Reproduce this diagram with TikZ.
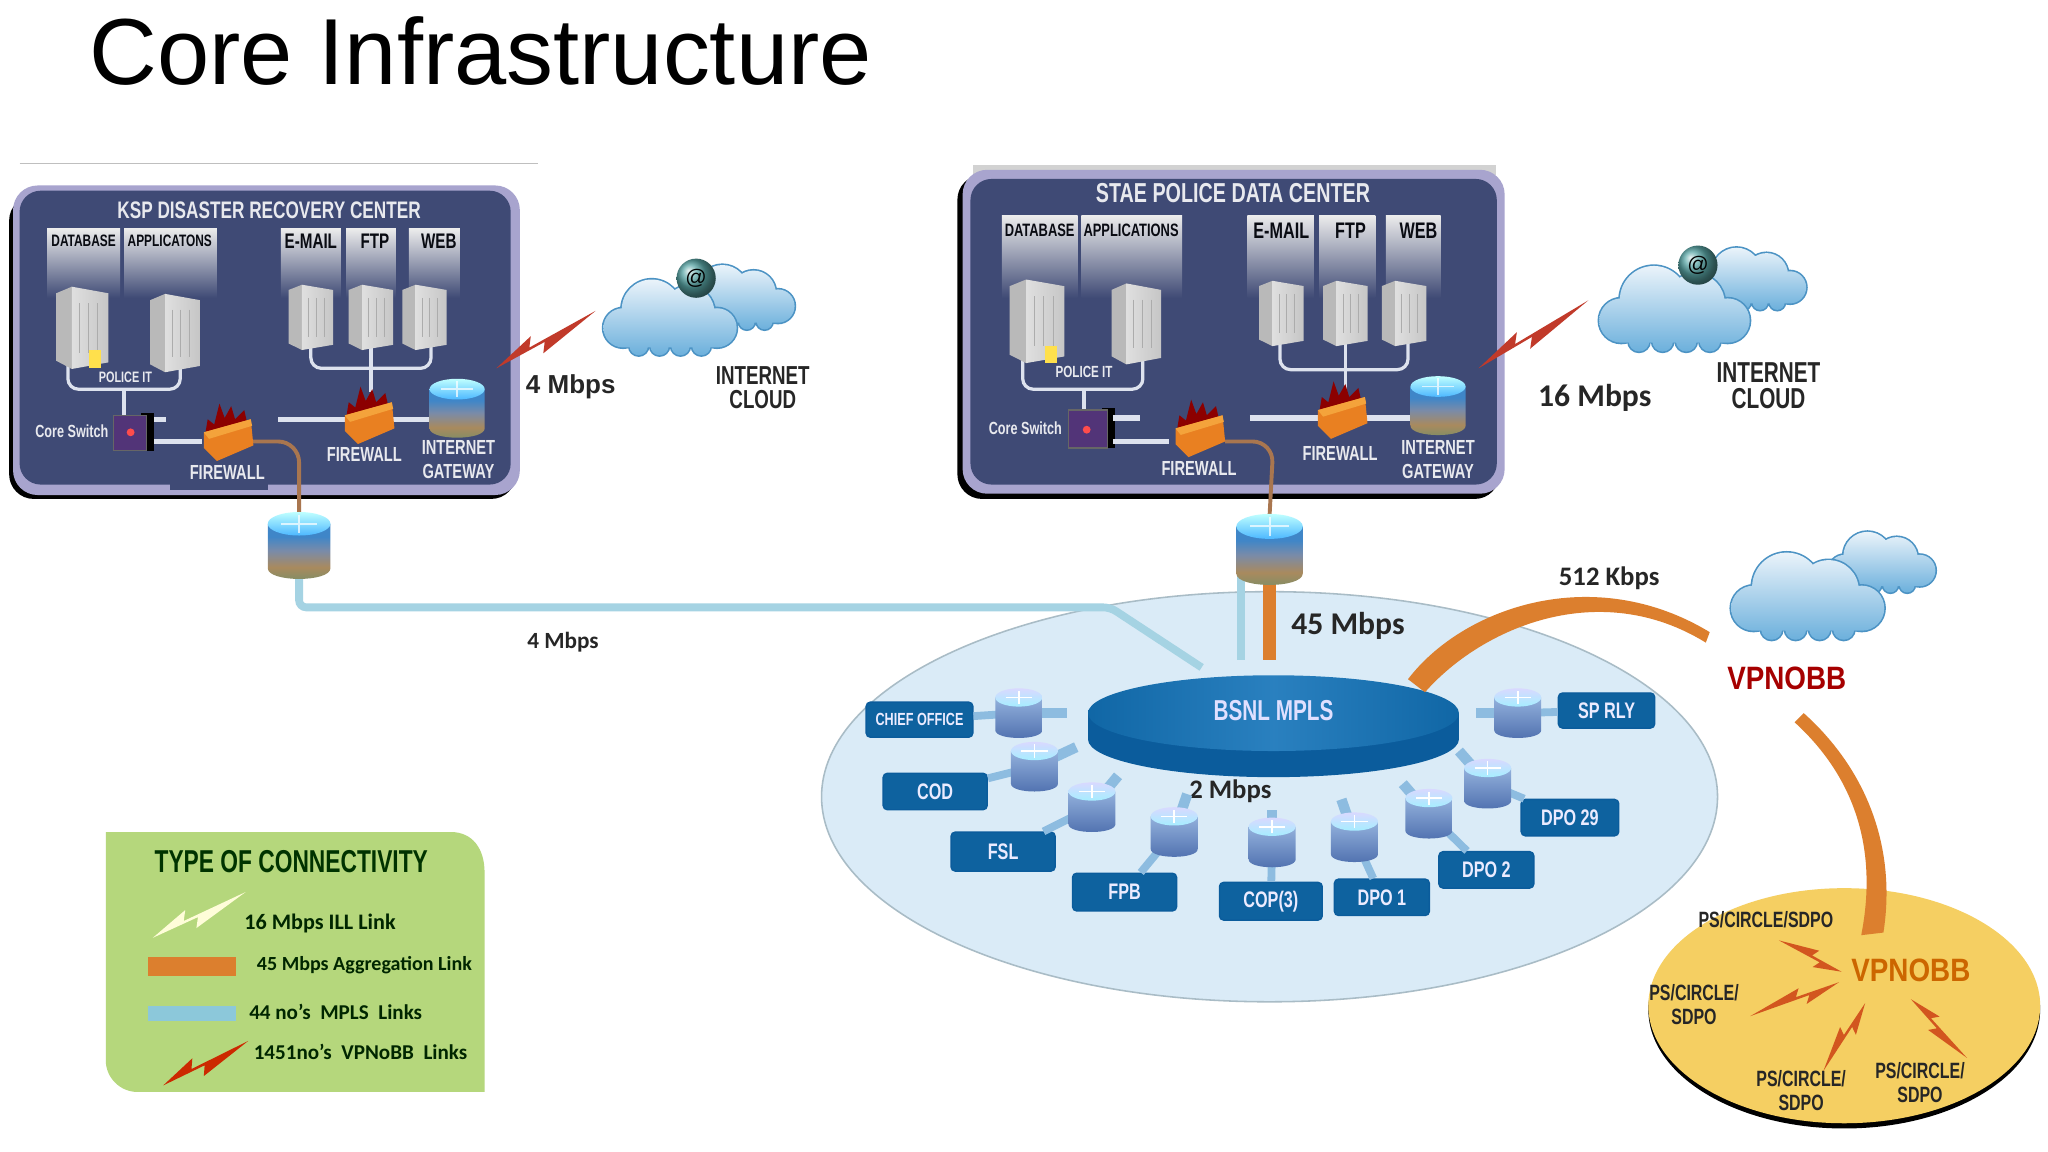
\documentclass[tikz,border=0pt]{standalone}
\usepackage{fontspec}
\setmainfont{Liberation Sans}
\newfontfamily\cond{Liberation Sans}[FakeStretch=0.72]
\newfontfamily\condw{Liberation Sans}[FakeStretch=0.86]
\newfontfamily\carl{Carlito}
\usetikzlibrary{calc}
\definecolor{navy}{HTML}{3F4A75}
\definecolor{lav}{HTML}{A8A4CE}
\definecolor{wire}{HTML}{DDE2EE}
\definecolor{mpls}{HTML}{A5D3E3}
\definecolor{legm}{HTML}{8CC8DA}
\definecolor{aggr}{HTML}{DC7F2E}
\definecolor{brownw}{HTML}{A9764F}
\definecolor{pale}{HTML}{DAEBF7}
\definecolor{edgeg}{HTML}{A9BCC6}
\definecolor{disc}{HTML}{1272B8}
\definecolor{discd}{HTML}{0B5C9C}
\definecolor{boxb}{HTML}{0E629F}
\definecolor{stub}{HTML}{8DBCE0}
\definecolor{yel}{HTML}{F5CF62}
\definecolor{leaf}{HTML}{B5D77C}
\definecolor{bred}{HTML}{C13A2A}
\definecolor{ybolt}{HTML}{D2561F}
\definecolor{rb1}{HTML}{7C8E66}
\definecolor{rb2}{HTML}{A98A5E}
\definecolor{rb3}{HTML}{7A8BA8}
\definecolor{rb4}{HTML}{3F86C8}
\definecolor{fwa}{HTML}{E98021}
\definecolor{fwb}{HTML}{F4A33B}
\definecolor{cla}{HTML}{EAF3FA}
\definecolor{clb}{HTML}{BCDDF0}
\definecolor{clc}{HTML}{6CB0DC}
\definecolor{cle}{HTML}{4C93C4}
\definecolor{sra}{HTML}{93B1DC}
\definecolor{srb}{HTML}{6A8CC4}
\definecolor{src}{HTML}{4E6FAE}
\pgfdeclareverticalshading{rtrbig}{100bp}{color(0bp)=(rb1); color(25bp)=(rb1); color(38bp)=(rb2);
  color(52bp)=(rb3); color(64bp)=(rb4); color(75bp)=(rb4); color(100bp)=(rb4)}
\newcommand\uu{0.3703pt}
\tikzset{
  lab/.style={font=\cond\fontsize{#1}{#1}\selectfont,inner sep=0pt,align=center},
  lab/.default=6,
  wt/.style={inner sep=0pt,align=center,font=\cond\bfseries\fontsize{#1}{#1}\selectfont,text=white!88!navy},
  wt/.default=5.8,
  col/.style={inner sep=0pt,align=center,font=\cond\bfseries\fontsize{#1}{#1}\selectfont,text=black!85!navy},
  blk/.style={inner sep=0pt,align=center,font=\cond\bfseries\fontsize{#1}{#1}\selectfont,text=black!85},
  blk/.default=7.4,
  big/.style={inner sep=0pt,font=\condw\bfseries\fontsize{9.2}{10}\selectfont},
  leg/.style={font=\carl\bfseries\fontsize{#1}{7}\selectfont,inner sep=0pt,text=black!85!green},
  cb/.style={font=\carl\bfseries\fontsize{#1}{#1}\selectfont,inner sep=0pt,text=black!85},
  box/.style={fill=boxb,draw=discd,rounded corners=1.2pt,inner sep=0pt,
    font=\cond\bfseries\fontsize{6.4}{7}\selectfont,text=blue!8!white},
  wr/.style={draw=wire,line width=2.5*\uu,rounded corners=3pt},
  wrt/.style={draw=wire,line width=4*\uu},
  lnk/.style={draw=stub,line width=6*\uu},
  mp/.style={draw=mpls,line width=6*\uu},
  og/.style={draw=aggr,line width=#1*\uu}
}
% big router with the brown foot
\newcommand\bigrtr[4]{\coordinate (#1) at (#2,#3);
  \begin{scope}[shift={(#2,#3)},scale=#4]
    \shade[shading=rtrbig]
      (-24,-16) -- (-24,18) .. controls (-24,29) and (24,29) .. (24,18) -- (24,-16) -- cycle;
    \shade[top color=cyan!25!white,bottom color=blue!40!cyan!70] (0,-16) ellipse (24 and 9);
    \draw[white,line width=1.5*\uu,opacity=.7] (0,-23) -- (0,-9) (-14,-16) -- (14,-16);
  \end{scope}}
% small router of the mpls cloud
\newcommand\smlrtr[3]{\coordinate (#1) at (#2,#3);
  \begin{scope}[shift={(#2,#3)}]
    \shade[top color=sra,middle color=srb,bottom color=src]
      (-18,-12) -- (-18,13) .. controls (-18,21) and (18,21) .. (18,13) -- (18,-12) -- cycle;
    \shade[top color=white!85!blue,bottom color=blue!20!cyan!35] (0,-12) ellipse (18 and 7);
    \draw[white,line width=1.2*\uu] (0,-17) -- (0,-7) (-10,-12) -- (10,-12);
  \end{scope}}
\newcommand\srv[4]{\begin{scope}[shift={(#1,#2)},xscale=#3,yscale=#4]
    \fill[gray!55] (-.5,-.42) -- (-.2,-.5) -- (-.2,.5) -- (-.5,.4) -- cycle;
    \shade[left color=gray!25,right color=gray!45] (-.2,-.5) -- (.5,-.42) -- (.5,.42) -- (-.2,.5) -- cycle;
    \draw[gray!65,line width=.8*\uu] (-.05,-.3) -- (-.05,.3) (.12,-.3) -- (.12,.3) (.3,-.3) -- (.3,.3);
  \end{scope}}
\newcommand\fw[2]{\begin{scope}[shift={(#1,#2)}]
    \fill[red!55!black] (-17,0) -- (-15,-12) -- (-10,-8) -- (-6,-24) -- (-2,-13) -- (3,-22) -- (6,-12) -- (13,-19) -- (16,-6) -- (16,2) -- cycle;
    \fill[fwa] (-18,-2) -- (18,-12) -- (20,8) -- (-8,20) -- (-18,10) -- cycle;
    \fill[fwb] (-18,-2) -- (18,-12) -- (19,-7) -- (-14,3) -- cycle;
  \end{scope}}
\newcommand\cld[3]{\begin{scope}[shift={(#1,#2)},scale=#3]
    \draw[cle,line width=2.5*\uu] (-36,11) circle (15) (-14,-3) circle (23) (14,-1) circle (20) (36,11) circle (15)
      (-24,25) circle (7) (-8,25) circle (7) (8,25) circle (7) (24,25) circle (7);
    \shade[top color=cla,middle color=clb,bottom color=clc]
      (-36,11) circle (15) (-14,-3) circle (23) (14,-1) circle (20) (36,11) circle (15)
      (-24,25) circle (7) (-8,25) circle (7) (8,25) circle (7) (24,25) circle (7)
      (-36,26) rectangle (36,8);
  \end{scope}}
\newcommand\bolt[4][3pt]{\coordinate (ba) at (#2); \coordinate (bb) at (#3);
  \fill[#4] (ba) -- ($(ba)!.40!(bb)!#1!90:(bb)$) -- ($(ba)!.34!(bb)!.4pt!90:(bb)$) -- (bb)
    -- ($(ba)!.42!(bb)!#1!-90:(bb)$) -- ($(ba)!.48!(bb)!.4pt!-90:(bb)$) -- cycle;}
\newcommand\atball[2]{\shade[ball color=gray!70!cyan] (#1,#2) circle (15);
  \node[font=\fontsize{6}{6}\selectfont,inner sep=0pt,text=black] at (#1,#2) {@};}
\begin{document}
\begin{tikzpicture}[x=0.0130612cm,y=-0.0130612cm]
\useasboundingbox (0,0) rectangle (1568,882);
\fill[white] (0,0) rectangle (1568,882);
\node[anchor=base west,font=\fontsize{26.7}{28}\selectfont,inner sep=0pt] (title) at (68,65) {Core Infrastructure};

% ---- left panel
\draw[gray!50,line width=1*\uu] (15,125) -- (412,125);
\fill[black,rounded corners=7pt] (7,150) rectangle (395,382);
\fill[lav,rounded corners=7pt] (10,142) rectangle (398,379);
\fill[navy,rounded corners=6pt] (15,146) rectangle (391,371);
\fill[navy] (130,366) rectangle (205,375);
\node[wt=6.8] (t1) at (206,161) {KSP DISASTER RECOVERY CENTER};
\foreach \a/\b in {36/92,95/166,215/261,265/303,313/352}
  \shade[top color=gray!15,bottom color=navy] (\a,175) rectangle (\b,228);
\node[col=4.7] (c1) at (64,184) {DATABASE};
\node[col=4.7] (c2) at (130,184) {APPLICATONS};
\node[col=6] (c3) at (238,185) {E-MAIL};
\node[col=6] (c4) at (287,185) {FTP};
\node[col=6] (c5) at (336,185) {WEB};
\coordinate (pl) at (52,262); \coordinate (pr) at (138,262);
\coordinate (pb) at (95,298); \coordinate (cs) at (100,330);
\draw[wr] (pl) -- (52,298) -- (138,298) -- (pr);
\draw[wr] (pb) -- (95,320);
\srv{63}{251}{40}{63} \srv{134}{255}{38}{60}
\fill[orange!35!yellow!70!white] (68,268) rectangle (77,282);
\node[wt=4.3] (pit1) at (96,289) {POLICE IT};
\coordinate (el) at (238,262); \coordinate (er) at (330,262); \coordinate (fw2t) at (284,300);
\draw[wr] (el) -- (238,282) -- (330,282) -- (er);
\draw[wr] (284,262) -- (fw2t);
\srv{238}{243}{34}{50} \srv{284}{243}{34}{50} \srv{325}{243}{34}{50}
\fill[black] (108,316) rectangle (118,345);
\fill[navy!70!violet,draw=black!60] (87,318) rectangle (112,345);
\fill[red!70!white] (100,331) circle (3);
\node[wt=5] (cs1) at (55,330) {Core Switch};
\coordinate (fw1i) at (155,338); \coordinate (fw2o) at (330,321); \coordinate (fw2i) at (213,321);
\draw[wrt] (118,321) -- (127,321);
\draw[wrt] (118,338) -- (fw1i);
\draw[wrt] (fw2i) -- (fw2o);
\coordinate (r1t) at (229,395);
\draw[draw=brownw,line width=3*\uu,rounded corners=6pt] (190,338) -- (229,338) -- (r1t);
\fw{174}{333} \fw{282}{320}
\bigrtr{gw1r}{350}{312}{.88}
\node[wt] (f1) at (174,362) {FIREWALL};
\node[wt] (f2) at (279,348) {FIREWALL};
\node[wt] (g1) at (351,352) {INTERNET\\[.9pt]GATEWAY};

\bolt{380,282}{456,238}{bred}
\node[font=\bfseries\fontsize{7.4}{8}\selectfont,inner sep=0pt,text=black!85] (m4) at (437,296) {4 Mbps};
\cld{565}{225}{.85} \cld{513}{240}{1} \atball{533}{213}
\node[blk] (ic1) at (584,297) {INTERNET\\[-.7pt]CLOUD};

% ---- right panel
\fill[gray!35] (745,126) rectangle (1145,134);
\fill[black,rounded corners=7pt] (733,134) rectangle (1148,382);
\fill[lav,rounded corners=7pt] (737,130) rectangle (1152,378);
\fill[navy,rounded corners=6pt] (743,137) rectangle (1146,371);
\node[wt=7.8] (t2) at (944,148) {STAE POLICE DATA CENTER};
\foreach \a/\b in {767/825,828/905,955/1006,1010/1053,1061/1103}
  \shade[top color=gray!15,bottom color=navy] (\a,165) rectangle (\b,228);
\node[col=5.1] (d1) at (796,176) {DATABASE};
\node[col=5.1] (d2) at (866,176) {APPLICATIONS};
\node[col=6.4] (d3) at (981,177) {E-MAIL};
\node[col=6.4] (d4) at (1034,177) {FTP};
\node[col=6.4] (d5) at (1086,177) {WEB};
\coordinate (ql) at (783,262); \coordinate (qr) at (875,262);
\coordinate (qb) at (830,298); \coordinate (qs) at (832,328);
\draw[wr] (ql) -- (783,298) -- (875,298) -- (qr);
\draw[wr] (qb) -- (830,320);
\srv{794}{246}{42}{64} \srv{870}{248}{38}{62}
\fill[orange!35!yellow!70!white] (800,265) rectangle (809,278);
\node[wt=4.6] (pit2) at (830,285) {POLICE IT};
\coordinate (fl) at (980,262); \coordinate (fr) at (1078,262); \coordinate (fw4t) at (1030,302);
\draw[wr] (fl) -- (980,283) -- (1078,283) -- (fr);
\draw[wr] (1030,262) -- (fw4t);
\srv{981}{240}{34}{50} \srv{1030}{240}{34}{50} \srv{1075}{240}{34}{50}
\fill[black] (844,312) rectangle (854,343);
\fill[navy!70!violet,draw=black!60] (818,314) rectangle (848,343);
\fill[red!70!white] (832,329) circle (3);
\node[wt=5] (cs2) at (785,328) {Core Switch};
\coordinate (fw3i) at (895,338); \coordinate (fw4i) at (957,320); \coordinate (fw4o) at (1085,320);
\draw[wrt] (852,320) -- (873,320);
\draw[wrt] (852,338) -- (fw3i);
\draw[wrt] (fw4i) -- (fw4o);
\coordinate (r2t) at (972,395);
\draw[draw=brownw,line width=3*\uu,rounded corners=6pt] (938,338) -- (975,338) -- (r2t);
\fw{918}{330} \fw{1027}{316}
\bigrtr{gw2r}{1101}{310}{.88}
\node[wt] (f3) at (918,359) {FIREWALL};
\node[wt] (f4) at (1026,347) {FIREWALL};
\node[wt] (g2) at (1101,352) {INTERNET\\[.9pt]GATEWAY};

\bolt{1132,282}{1216,230}{bred}
\node[cb=9] (m16) at (1221,305) {16 Mbps};
\cld{1341}{211}{.82} \cld{1282}{233}{1.13} \atball{1300}{203}
\node[blk=8.2] (ic2) at (1354,295) {INTERNET\\[-.8pt]CLOUD};

% ---- mpls cloud
\fill[pale,draw=edgeg,line width=1.2*\uu] (972,610) ellipse (343 and 157);
\coordinate (r1b) at (229,440); \coordinate (bend) at (850,465);
\coordinate (bs1) at (920,511); \coordinate (bs2) at (950,505); \coordinate (bs3) at (972,505);
\draw[mp,rounded corners=2pt] (r1b) -- (229,465) -- (bend) -- (bs1);
\draw[mp] (950,440) -- (bs2);
\draw[og=10] (972,440) -- (bs3);
\node[cb=6.6] (m4b) at (431,492) {4 Mbps};
\bigrtr{r1}{229}{417}{1}
\bigrtr{r2}{972}{420}{1.06}
\fill[discd] (833,546) rectangle (1117,566);
\fill[discd] (975,566) ellipse (142 and 29);
\shade[left color=disc!90!black,right color=disc!90!black,middle color=disc!90!white] (975,546) ellipse (142 and 29);
\node[font=\cond\bfseries\fontsize{8.2}{9}\selectfont,inner sep=0pt,text=blue!12!white] (bsnl) at (975,544) {BSNL MPLS};
\node[cb=9] (m45) at (1032,479) {45 Mbps};
\node[cb=7.6] (m2) at (942,606) {2 Mbps};

% boxes and their routers
\foreach \n/\x/\y/\w/\h/\t in {
  chief/704/551/82/27/{\fontsize{5}{5}\selectfont CHIEF OFFICE},cod/716/606/80/28/COD,fsl/768/652/80/30/FSL,
  fpb/861/683/80/29/FPB,cop/973/690/79/29/COP(3),dpo1/1058/687/73/28/DPO 1,
  dpo2/1138/666/73/28/DPO 2,dpo29/1202/626/75/28/DPO 29,sprly/1230/544/74/27/SP RLY}
  \node[box,minimum width=\w*\uu,minimum height=\h*\uu] (\n) at (\x,\y) {\t};
\foreach \n/\x/\y/\sx/\sy/\b in {
  a/780/546/817/546/chief,b/792/587/824/572/cod,c/836/618/856/594/fsl,
  d/899/637/909/608/fpb,e/974/645/974/620/cop,f/1037/641/1027/612/dpo1,
  g/1094/623/1074/600/dpo2,h/1139/600/1117/575/dpo29,i/1162/546/1130/546/sprly}{
  \coordinate (s\n) at (\sx,\sy);
  \coordinate (k\n) at (\x,\y);
  \draw[lnk] (k\n) -- (\b);
  \draw[lnk,line width=8*\uu] (k\n) -- (s\n);
  \smlrtr{r\n}{\x}{\y}
}

% ---- vpnobb
\fill[aggr] (1078,520) .. controls (1120,465) and (1220,430) .. (1309,484) -- (1306,492)
  .. controls (1225,442) and (1135,480) .. (1091,530) -- cycle;
\node[cb=7.6] (k512) at (1232,443) {512 Kbps};
\cld{1441}{428}{.8} \cld{1384}{453}{1.15}
\node[big,text=red!65!black] (vp) at (1368,519) {VPNOBB};

\fill[black] (1412,773) ellipse (150 and 91);
\fill[yel] (1412,770) ellipse (150 and 90);
\fill[aggr] (1381,546) .. controls (1430,590) and (1452,650) .. (1442,714) -- (1425,716)
  .. controls (1438,650) and (1420,595) .. (1374,553) -- cycle;
\node[big,text=orange!80!black] (vp2) at (1463,743) {VPNOBB};
\node[blk=6.3] (p1) at (1352,704) {PS/CIRCLE/SDPO};
\node[blk=6.3] (p2) at (1297,769) {PS/CIRCLE/\\[.7pt]SDPO};
\node[blk=6.3] (p3) at (1379,835) {PS/CIRCLE/\\[.7pt]SDPO};
\node[blk=6.3] (p4) at (1470,829) {PS/CIRCLE/\\[.7pt]SDPO};
\bolt[2.5pt]{1410,744}{1362,720}{ybolt}
\bolt[2.5pt]{1408,752}{1340,778}{ybolt}
\bolt[2.5pt]{1428,768}{1396,820}{ybolt}
\bolt[2.5pt]{1463,765}{1506,810}{ybolt}

% ---- legend
\fill[leaf] (81,637) -- (345,637) .. controls (362,637) and (371,650) .. (371,668) -- (371,836)
  -- (105,836) .. controls (92,836) and (81,825) .. (81,812) -- cycle;
\node[font=\cond\bfseries\fontsize{9}{9}\selectfont,inner sep=0pt,text=black!80!green] (lt) at (223,660) {TYPE OF CONNECTIVITY};
\bolt{117,718}{188,683}{white!85!yellow}
\node[leg=6.3] (l1) at (245,707) {16 Mbps ILL Link};
\fill[aggr] (113,733) rectangle (181,747);
\node[leg=5.7] (l2) at (279,739) {45 Mbps Aggregation Link};
\fill[legm] (113,770) rectangle (181,782);
\node[leg=6] (l3) at (257,775) {44 no’s~~MPLS~~Links};
\bolt{125,831}{190,797}{red!60!orange!80!black}
\node[leg=6] (l4) at (276,805) {1451no’s~~VPNoBB~~Links};
\end{tikzpicture}
\end{document}
